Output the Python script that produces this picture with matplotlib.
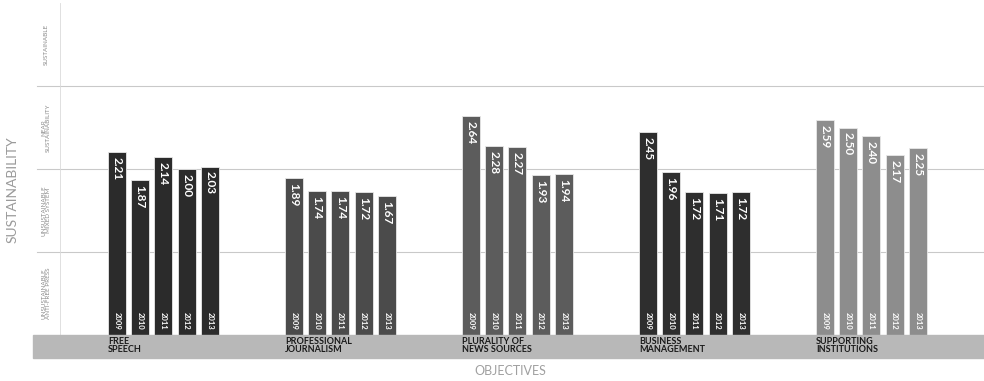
import matplotlib.pyplot as plt
from matplotlib.patches import Rectangle

# data
objectives = ['FREE\nSPEECH', 'PROFESSIONAL\nJOURNALISM', 'PLURALITY OF\nNEWS SOURCES',
              'BUSINESS\nMANAGEMENT', 'SUPPORTING\nINSTITUTIONS']
years = ['2009', '2010', '2011', '2012', '2013']
free_speech = [2.21, 1.87, 2.14, 2.00, 2.03]
professional_journalism = [1.89, 1.74, 1.74, 1.72, 1.67]
plurality_of_news = [2.64, 2.28, 2.27, 1.93, 1.94]
business_management = [2.45, 1.96, 1.72, 1.71, 1.72]
supporting_institutions = [2.59, 2.50, 2.40, 2.17, 2.25]
scores = [free_speech, professional_journalism, plurality_of_news,
          business_management, supporting_institutions]
levels = ['UNSUSTAINABLE\nANTI-FREE PRESS', 'UNSUSTAINABLE\nMIXED SYSTEM',
          'NEAR\nSUSTAINABILITY', 'SUSTAINABLE']

group_colors = ['#2b2b2b', '#4b4b4b', '#5c5c5c', '#2e2e2e', '#8d8d8d']

plt.rcParams['font.family'] = ['Lato', 'DejaVu Sans']

W, H = 984, 381
fig = plt.figure(figsize=(W / 100, H / 100), dpi=100)
ax = fig.add_axes([33 / W, 46 / H, 951 / W, 332 / H])

step = 23.2 / 177
width = 18 / 177
ax.set_xlim((33 - 163.4) / 177, (984 - 163.4) / 177)
ax.set_ylim(0, 4)

for y in [1, 2, 3]:
    ax.axhline(y, xmin=4 / 951, color='#c9c9c9', lw=0.8, zorder=0)
ax.axvline((60 - 163.4) / 177, color='#dadada', lw=0.6, zorder=0)

for g, vals in enumerate(scores):
    xs = [g + (i - 2) * step for i in range(len(vals))]
    ax.bar(xs, vals, width, color=group_colors[g], edgecolor='#e8e8e8', lw=0.6, zorder=2)
    for x, v, yr in zip(xs, vals, years):
        ax.text(x, v - 0.06, '%.2f' % v, rotation=-90, ha='center', va='top',
                color='white', fontsize=8.5, fontweight='bold', zorder=3)
        ax.text(x, 0.06, yr, rotation=-90, ha='center', va='bottom',
                color='white', fontsize=5.5, fontweight='bold', zorder=3)

# left level labels
for k, lab in enumerate(levels):
    ax.text((46 - 163.4) / 177, k + 0.5, lab, rotation=90, ha='center', va='center',
            color='#8a8a8a', fontsize=4.5, linespacing=1.0)

for s in ax.spines.values():
    s.set_visible(False)
ax.set_xticks([])
ax.set_yticks([])

# bottom band with objective names
fig.patches.append(Rectangle((33 / W, (H - 358) / H), 951 / W, 23 / H,
                             transform=fig.transFigure, color='#b8b8b8', zorder=1))
for g, name in enumerate(objectives):
    fig.text((108 + 177 * g) / W, (H - 337) / H, name, ha='left', va='top',
             fontsize=6.5, fontweight='bold', color='#1a1a1a', linespacing=0.9)

fig.text(510 / W, (H - 371) / H, 'OBJECTIVES', ha='center', va='center',
         fontsize=9, color='#a0a0a0')
fig.text(13 / W, (H - 190) / H, 'SUSTAINABILITY', rotation=90, ha='center', va='center',
         fontsize=10, color='#9a9a9a')

fig.savefig('out.png', dpi=100)
